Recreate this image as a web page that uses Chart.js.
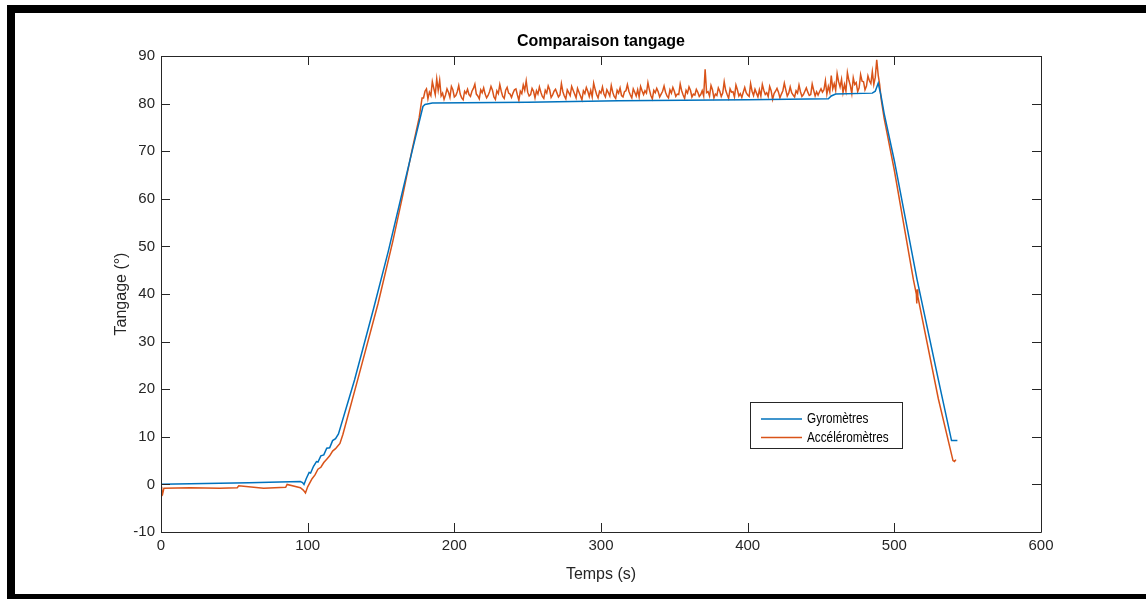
<!DOCTYPE html>
<html>
<head>
<meta charset="utf-8">
<script src="https://cdn.jsdelivr.net/npm/chart.js@4"></script>
<style>
  html, body { margin: 0; padding: 0; background: #fff; overflow: hidden; }
  #frame {
    position: absolute; left: 7px; top: 5px; width: 1300px; height: 597px;
    box-sizing: border-box; border: 8px solid #000; border-right: none; background: #fff;
  }
  #wrap { position: absolute; left: 0; top: 0; width: 1146px; height: 599px; }
</style>
</head>
<body>
<div id="frame"></div>
<div id="wrap"><canvas id="chart" width="1146" height="599"></canvas></div>
<script>
// Gyromètres (blue)
const gyroTime = [0, 30, 60, 95, 96.5, 97.5, 99, 101, 102, 104, 106, 107, 109, 111, 113, 115, 117, 119, 121,
  132, 145, 155, 165, 172, 178.6, 180, 185, 250, 312, 400, 455, 457, 460, 485, 487, 489,
  491, 493, 500, 515.5, 530, 539, 543];
const gyroValues = [0.05, 0.2, 0.35, 0.6, 0.4, 0.0, 1.2, 2.5, 2.4, 3.8, 4.8, 4.7, 6.0, 6.2, 7.6, 7.7, 9.2, 9.6, 10.6,
  22, 37, 49, 62, 71, 79.4, 79.8, 80.1, 80.3, 80.6, 80.8, 81.0, 81.6, 82.0, 82.2, 82.6, 84.3,
  81.5, 78, 68, 43, 22, 9.2, 9.2];

// Accéléromètres (orange) - start and ramp
const accelRampTime = [0, 0.5, 1.2, 2, 20, 40, 52, 53, 70, 85, 86, 95, 97, 98.5, 100, 103, 105, 107, 109, 111,
  113, 115, 117, 119, 122, 124, 135, 148, 158, 165, 171, 176, 178];
const accelRampValues = [-0.5, -1.2, -1.9, -0.8, -0.7, -0.8, -0.7, -0.3, -0.8, -0.6, 0.0, -0.7, -1.2, -1.8, -0.5, 1.2, 2.0, 3.2, 3.6, 4.6,
  5.3, 6.0, 7.0, 7.5, 8.6, 10.5, 23, 38, 51, 61, 70, 77, 81.2];

// plateau, one reading per second from t = 179 s to t = 488 s
const accelPlateauStart = 179;
const accelPlateauValues = [
  81.2, 82.6, 83.1, 81.0, 82.4, 81.7, 84.6, 83.2, 81.9, 85.2,
  82.8, 84.9, 81.6, 82.2, 80.9, 81.8, 83.1, 82.4, 81.3, 83.6,
  82.9, 81.4, 81.7, 82.5, 83.8, 82.0, 81.2, 80.8, 82.6, 82.1,
  83.0, 81.9, 81.5, 82.6, 83.2, 84.1, 82.0, 81.6, 81.0, 82.9,
  82.3, 83.3, 82.0, 81.2, 81.7, 82.5, 83.6, 82.8, 81.4, 80.9,
  82.7, 82.1, 84.0, 82.6, 81.5, 81.1, 82.8, 83.4, 82.2, 82.0,
  81.3, 82.2, 82.9, 83.1, 81.8, 80.7, 82.6, 82.1, 83.9, 82.8,
  84.8, 82.4, 81.6, 81.9, 83.2, 82.6, 81.2, 82.7, 82.0, 83.5,
  82.4, 81.5, 81.1, 82.8, 82.2, 83.7, 82.9, 81.3, 81.8, 82.6,
  83.0, 82.2, 81.4, 81.8, 84.2, 82.5, 81.6, 81.0, 82.9, 82.3,
  81.7, 83.6, 82.8, 82.0, 81.2, 83.2, 82.4, 81.6, 80.8, 82.7,
  82.1, 83.4, 82.6, 81.5, 82.8, 81.4, 84.3, 83.0, 81.9, 81.2,
  82.6, 82.2, 83.5, 82.0, 81.4, 82.9, 82.3, 81.6, 83.8, 82.4,
  81.5, 81.1, 82.8, 82.2, 83.3, 81.7, 81.4, 82.5, 82.7, 84.0,
  82.6, 81.8, 81.2, 83.1, 82.4, 81.6, 82.9, 81.4, 83.6, 82.7,
  81.9, 82.7, 82.2, 84.4, 82.9, 81.7, 81.0, 82.8, 82.3, 83.2,
  82.5, 81.4, 82.0, 82.6, 83.7, 82.4, 81.6, 81.2, 82.9, 82.2,
  83.4, 82.6, 81.5, 82.0, 81.9, 84.1, 82.7, 81.8, 81.1, 82.8,
  82.2, 83.5, 82.8, 81.4, 82.0, 81.8, 83.0, 82.4, 81.5, 81.9,
  82.7, 81.6, 87.2, 82.3, 82.5, 81.6, 83.8, 82.9, 81.2, 82.0,
  81.7, 83.3, 82.6, 81.5, 82.2, 84.6, 82.8, 81.9, 81.1, 83.1,
  82.4, 82.5, 81.4, 83.9, 82.9, 81.6, 82.1, 81.3, 82.4, 83.4,
  82.3, 81.8, 81.5, 84.2, 82.6, 81.7, 83.0, 82.2, 81.4, 82.9,
  81.6, 84.0, 82.8, 81.9, 82.3, 81.5, 83.6, 82.7, 80.9, 82.1,
  82.6, 83.2, 82.4, 81.2, 82.0, 82.7, 84.3, 82.9, 81.6, 82.2,
  83.5, 82.3, 81.8, 81.4, 82.7, 82.2, 83.9, 82.5, 81.5, 81.9,
  82.6, 83.3, 82.4, 81.7, 81.9, 84.1, 82.8, 81.6, 82.5, 81.8,
  82.5, 83.1, 82.4, 82.9, 84.8, 82.0, 83.6, 82.4, 85.9, 83.1,
  84.2, 82.8, 86.3, 84.6, 83.5, 85.1, 82.3, 84.0, 82.6, 86.5,
  84.9, 83.8, 82.1, 85.4, 84.0, 84.4, 82.5, 83.3, 86.1, 84.7,
  84.6, 82.9, 83.7, 85.8, 84.8, 84.2, 86.7, 84.0, 85.5, 89.2
];

// Accéléromètres - descent
const accelEndTime = [489, 490, 491, 493, 500, 513, 515, 515.3, 515.6, 516, 530, 540, 541, 542];
const accelEndValues = [86.0, 84.0, 81.0, 77, 66, 43, 40, 38, 41, 39.5, 18, 5, 4.8, 5.2];

const xTicks = [0, 100, 200, 300, 400, 500, 600];
const yTicks = [-10, 0, 10, 20, 30, 40, 50, 60, 70, 80, 90];
const chartTitle = "Comparaison tangage";

const BLUE = "#0072BD";
const ORANGE = "#D95319";
const AXIS = "#262626";
const FONT = "'Liberation Sans', Arial, Helvetica, sans-serif";

const gyroPoints = gyroTime.map((t, i) => ({ x: t, y: gyroValues[i] }));
const accelPoints = []
  .concat(accelRampTime.map((t, i) => ({ x: t, y: accelRampValues[i] })))
  .concat(accelPlateauValues.map((v, i) => ({ x: accelPlateauStart + i, y: v })))
  .concat(accelEndTime.map((t, i) => ({ x: t, y: accelEndValues[i] })));

// box around the axes, inward ticks, title and legend
const matlabAxes = {
  id: "matlabAxes",
  afterDatasetsDraw(chart) {
    const { ctx, chartArea: a, scales } = chart;
    const tl = 9;
    ctx.save();
    ctx.strokeStyle = AXIS;
    ctx.lineWidth = 1;
    ctx.beginPath();
    ctx.rect(Math.round(a.left) + 0.5, Math.round(a.top) + 0.5,
      Math.round(a.right - a.left), Math.round(a.bottom - a.top));
    xTicks.forEach((v) => {
      const px = Math.round(scales.x.getPixelForValue(v)) + 0.5;
      ctx.moveTo(px, a.bottom); ctx.lineTo(px, a.bottom - tl);
      ctx.moveTo(px, a.top); ctx.lineTo(px, a.top + tl);
    });
    yTicks.forEach((v) => {
      const py = Math.round(scales.y.getPixelForValue(v)) + 0.5;
      ctx.moveTo(a.left, py); ctx.lineTo(a.left + tl, py);
      ctx.moveTo(a.right, py); ctx.lineTo(a.right - tl, py);
    });
    ctx.stroke();

    // title, centred over the axes
    ctx.fillStyle = "#000";
    ctx.font = "bold 16px " + FONT;
    ctx.textAlign = "center";
    ctx.textBaseline = "middle";
    ctx.fillText(chartTitle, (a.left + a.right) / 2, 42);

    // legend
    const lx = 750.5, ly = 402.5, lw = 152, lh = 46;
    ctx.fillStyle = "#fff";
    ctx.fillRect(lx, ly, lw, lh);
    ctx.strokeStyle = AXIS;
    ctx.lineWidth = 1;
    ctx.strokeRect(lx, ly, lw, lh);
    ctx.font = "14px " + FONT;
    ctx.textAlign = "left";
    chart.data.datasets.forEach((ds, i) => {
      const y = 419 + i * 18.5;
      ctx.strokeStyle = ds.borderColor;
      ctx.lineWidth = 1.4;
      ctx.beginPath();
      ctx.moveTo(761, y); ctx.lineTo(802, y);
      ctx.stroke();
      ctx.save();
      ctx.translate(807, y + 0.5);
      ctx.scale(0.84, 1);
      ctx.fillStyle = "#000";
      ctx.fillText(ds.label, 0, 0);
      ctx.restore();
    });
    ctx.restore();
  }
};

new Chart(document.getElementById("chart"), {
  type: "line",
  data: {
    datasets: [
      { label: "Gyromètres", data: gyroPoints, borderColor: BLUE, borderWidth: 1.5, pointRadius: 0, tension: 0 },
      { label: "Accéléromètres", data: accelPoints, borderColor: ORANGE, borderWidth: 1.5, pointRadius: 0, tension: 0 }
    ]
  },
  options: {
    responsive: false,
    animation: false,
    events: [],
    layout: { padding: { left: 112, right: 105, top: 56, bottom: 15 } },
    plugins: {
      legend: { display: false },
      tooltip: { enabled: false },
      title: { display: false }
    },
    scales: {
      x: {
        type: "linear",
        min: 0, max: 600,
        afterBuildTicks: (s) => { s.ticks = xTicks.map((v) => ({ value: v })); },
        afterFit: (s) => { s.height = 52; },
        grid: { display: false, drawTicks: false },
        border: { display: false },
        ticks: { color: AXIS, padding: 5, font: { family: FONT, size: 15 } },
        title: { display: true, text: "Temps (s)", color: AXIS, padding: 0, font: { family: FONT, size: 16 } }
      },
      y: {
        type: "linear",
        min: -10, max: 90,
        afterBuildTicks: (s) => { s.ticks = yTicks.map((v) => ({ value: v })); },
        afterFit: (s) => { s.width = 49; },
        grid: { display: false, drawTicks: false },
        border: { display: false },
        ticks: { color: AXIS, padding: 6, font: { family: FONT, size: 15 } },
        title: { display: true, text: "Tangage (°)", color: AXIS, padding: 0, font: { family: FONT, size: 16 } }
      }
    }
  },
  plugins: [matlabAxes]
});
</script>
</body>
</html>
